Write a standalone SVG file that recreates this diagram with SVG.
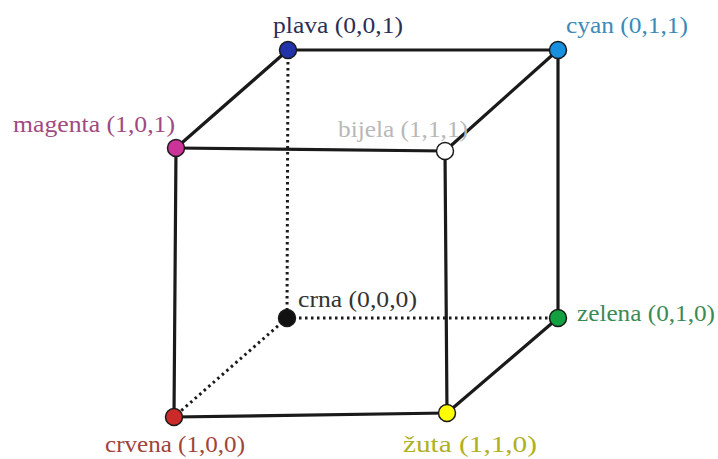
<svg xmlns="http://www.w3.org/2000/svg" width="718" height="459" viewBox="0 0 718 459">
<style>
.e{stroke:#1a1a1a;stroke-width:3.2;fill:none;stroke-linecap:round}
.d{stroke:#1a1a1a;stroke-width:3;fill:none;stroke-dasharray:2.5 3.5}
.v{stroke:#1a1a1a;stroke-width:1.5}
.t{font-family:'Liberation Serif','Times New Roman','DejaVu Serif',serif;font-size:24px}
</style>
<rect width="718" height="459" fill="#ffffff"/>
<g id="connectors">
<line class="d" x1="288" y1="50" x2="287" y2="318"/>
<line class="d" x1="287" y1="318" x2="558" y2="318"/>
<line class="d" x1="287" y1="318" x2="174" y2="417"/>
<line class="e" x1="288" y1="50" x2="558" y2="50"/>
<line class="e" x1="288" y1="50" x2="176" y2="148"/>
<line class="e" x1="176" y1="148" x2="445" y2="151"/>
<line class="e" x1="445" y1="151" x2="558" y2="50"/>
<line class="e" x1="558" y1="50" x2="558" y2="318"/>
<line class="e" x1="176" y1="148" x2="174" y2="417"/>
<line class="e" x1="445" y1="151" x2="447" y2="413"/>
<line class="e" x1="174" y1="417" x2="447" y2="413"/>
<line class="e" x1="447" y1="413" x2="558" y2="318"/>
</g>
<g id="plava">
<circle class="v" cx="288" cy="50" r="8.5" fill="#2233aa"/>
<text class="t" x="273" y="33" fill="#2e2e55" textLength="130" lengthAdjust="spacingAndGlyphs">plava (0,0,1)</text>
</g>
<g id="cyan">
<circle class="v" cx="558" cy="50" r="8.5" fill="#1890e0"/>
<text class="t" x="566" y="33" fill="#3c8ab8" textLength="122" lengthAdjust="spacingAndGlyphs">cyan (0,1,1)</text>
</g>
<g id="magenta">
<circle class="v" cx="176" cy="148" r="8.5" fill="#cc3399"/>
<text class="t" x="13" y="132" fill="#a04a80" textLength="162" lengthAdjust="spacingAndGlyphs">magenta (1,0,1)</text>
</g>
<g id="bijela">
<circle class="v" cx="445" cy="151" r="8.5" fill="#ffffff"/>
<text class="t" x="338" y="137" fill="#b8b8b8" textLength="130" lengthAdjust="spacingAndGlyphs">bijela (1,1,1)</text>
</g>
<g id="crna">
<circle class="v" cx="287" cy="318" r="8.5" fill="#111111"/>
<text class="t" x="298" y="307" fill="#333333" textLength="119" lengthAdjust="spacingAndGlyphs">crna (0,0,0)</text>
</g>
<g id="zelena">
<circle class="v" cx="558" cy="318" r="8.5" fill="#12a040"/>
<text class="t" x="577" y="321" fill="#3a8a55" textLength="138" lengthAdjust="spacingAndGlyphs">zelena (0,1,0)</text>
</g>
<g id="crvena">
<circle class="v" cx="174" cy="417" r="8.5" fill="#cc2a2a"/>
<text class="t" x="105" y="452" fill="#a0443c" textLength="140" lengthAdjust="spacingAndGlyphs">crvena (1,0,0)</text>
</g>
<g id="zuta">
<circle class="v" cx="447" cy="413" r="8.5" fill="#ffff00"/>
<text class="t" x="403" y="452" fill="#b0b020" textLength="134" lengthAdjust="spacingAndGlyphs">žuta (1,1,0)</text>
</g>
</svg>
